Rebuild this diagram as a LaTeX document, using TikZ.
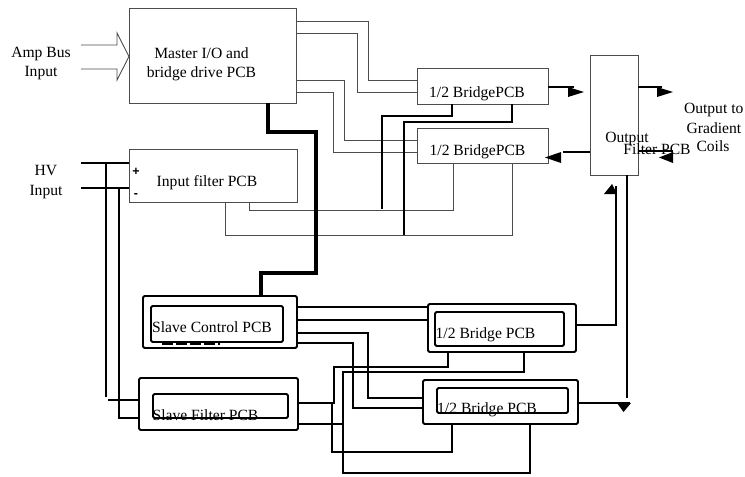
\documentclass[tikz,border=0pt]{standalone}
\usepackage{fontspec}
\setmainfont{Liberation Serif}
\newfontfamily\sansf{Liberation Sans}
\begin{document}
\begin{tikzpicture}[x=1pt,y=-1pt,
  thinbox/.style={draw=black!70,line width=0.9pt,inner sep=0,outer sep=0},
  slavebox/.style={draw=black,line width=1.9pt,rounded corners=1.5pt,inner sep=0,outer sep=0},
  gline/.style={draw=black!70,line width=0.9pt},
  bline/.style={draw=black,line width=2pt},
  thickbus/.style={draw=black,line width=4.5pt,line join=miter},
  txt/.style={font=\fontsize{15.6}{18.5}\selectfont,anchor=base,inner sep=0},
  sign/.style={font=\sansf\bfseries\fontsize{12.5}{13}\selectfont,inner sep=0}]

\useasboundingbox (0,0) rectangle (745,477);

% ---------- boxes ----------
\node[thinbox,minimum width=167pt,minimum height=95pt] (master) at (212.5,55.5) {};
\node[thinbox,minimum width=131pt,minimum height=36pt] (bA) at (482.5,86) {};
\node[thinbox,minimum width=131pt,minimum height=35pt] (bB) at (482.5,145.5) {};
\node[thinbox,minimum width=48pt,minimum height=120pt] (of) at (614,115) {};
\node[thinbox,minimum width=168pt,minimum height=53pt] (inf) at (213,175.5) {};

\node[slavebox,minimum width=154pt,minimum height=52pt] (sc) at (220,322) {};
\node[slavebox,minimum width=132pt,minimum height=36pt] (sci) at (217,324) {};
\node[slavebox,minimum width=148pt,minimum height=48pt] (sb1) at (502,328) {};
\node[slavebox,minimum width=129pt,minimum height=34pt] (sb1i) at (499.5,329) {};
\node[slavebox,minimum width=155pt,minimum height=44pt] (sb2) at (500.5,402) {};
\node[slavebox,minimum width=131pt,minimum height=25pt] (sb2i) at (502.5,400.5) {};
\node[slavebox,minimum width=159pt,minimum height=52pt] (sf) at (218.5,404) {};
\node[slavebox,minimum width=135pt,minimum height=24pt] (sfi) at (220.5,406) {};

% ---------- texts ----------
\node[txt] (amp1) at (41,57.7) {Amp Bus};
\node[txt] (amp2) at (41,76) {Input};
\node[txt] (m1) at (201.5,58.5) {Master I/O and};
\node[txt] (m2) at (201.5,77) {bridge drive PCB};
\node[txt] (hv1) at (46,175.3) {HV};
\node[txt] (hv2) at (46,195.3) {Input};
\node[sign] (plus) at (136,172) {+};
\node[sign] (minus) at (136,196) {-};
\node[txt] (inft) at (207,186) {Input filter PCB};
\node[txt] (bAt) at (477,97) {1/2 BridgePCB};
\node[txt] (bBt) at (477.5,155.5) {1/2 BridgePCB};
\node[txt] (oft1) at (627,142.7) {Output};
\node[txt] (oft2) at (657,154.3) {Filter PCB};
\node[txt] (g1) at (713.7,113.3) {Output to};
\node[txt] (g2) at (714,133.5) {Gradient};
\node[txt] (g3) at (713,151) {Coils};
\node[txt] (sct) at (212,332.3) {Slave Control PCB};
\node[txt] (sb1t) at (485.5,338.3) {1/2 Bridge PCB};
\node[txt] (sb2t) at (487,413.3) {1/2 Bridge PCB};
\node[txt] (sft) at (205.5,420) {Slave Filter PCB};

% ---------- Amp Bus input block arrow ----------
\draw[gline,line join=miter] (81,45) -- (117,45) -- (117,33) -- (master.west |- 0,56.5)
  -- (117,80) -- (117,69) -- (81,69);

% ---------- master to upper bridges (gray) ----------
\draw[gline] (master.east |- 0,21) -| (368,80) -- (bA.west |- 0,80);
\draw[gline] (master.east |- 0,33) -| (357,92) -- (bA.west |- 0,92);
\draw[gline] (master.east |- 0,80) -| (344,140) -- (bB.west |- 0,140);
\draw[gline] (master.east |- 0,92) -| (333,152) -- (bB.west |- 0,152);

% ---------- upper bridge B to input filter (gray) ----------
\draw[gline] (bB.south -| 453,0) -- (453,210) -| (inf.south -| 249,0);
\draw[gline] (bB.south -| 512,0) -- (512,235) -| (inf.south -| 225,0);

% ---------- upper bridge A bottom (black) ----------
\draw[bline] (bA.south -| 452,0) -- (452,116) -| (382,209);
\draw[bline] (bA.south -| 512,0) -- (512,122) -| (404,235);

% ---------- master to slave control bus ----------
\draw[thickbus] (master.south -| 268,0) -- (268,132) -| (316,273) -| (sc.north -| 261,0);

% ---------- HV input ----------
\draw[bline] (81,163) -- (inf.west |- 0,163);
\draw[bline] (81,188) -- (inf.west |- 0,188);
\draw[bline] (106,163) -- (106,397);
\draw[bline] (119,188) -- (119,417);
\draw[bline] (108,400) -- (sf.west |- 0,400);
\draw[bline] (118,418) -- (sf.west |- 0,418);

% ---------- upper arrows ----------
\draw[bline] (bA.east |- 0,87) -- (574,87);
\fill (568,87) -- (584,92) -- (568,97) -- cycle;
\draw[bline] (of.east |- 0,87) -- (662,87);
\fill (657,87) -- (673,92) -- (657,97) -- cycle;
\draw[bline] (of.west |- 0,152) -- (563,152);
\fill (561,152) -- (545,157.5) -- (561,163) -- cycle;
\draw[bline] (of.east |- 0,151) -- (673,151);
\fill (673,152) -- (659,157.5) -- (673,163) -- cycle;

% ---------- slave control to slave bridges ----------
\draw[bline] (sc.east |- 0,307) -- (sb1.west |- 0,307);
\draw[bline] (sc.east |- 0,320) -- (sb1.west |- 0,320);
\draw[bline] (sc.east |- 0,333) -| (368,398) -- (sb2.west |- 0,398);
\draw[bline] (sc.east |- 0,343) -| (353,408) -- (sb2.west |- 0,408);
\draw[line width=2.5pt,dash pattern=on 11pt off 3pt] (162,343.5) -- (220,343.5);

% ---------- slave bridges to output filter ----------
\draw[bline] (sb1.east |- 0,325) -| (616,186);
\fill (604,194) -- (617,194) -- (612,184) -- cycle;
\draw[bline] (sb2.east |- 0,403) -- (630,403);
\draw[bline] (of.south -| 627,0) -- (627,398);
\fill (617,403) -- (631,403) -- (623.5,412) -- cycle;

% ---------- slave filter to slave bridges ----------
\draw[bline] (sf.east |- 0,403) -| (334,367) -| (sb1.south -| 448,0);
\draw[bline] (332,403) |- (452,452) -- (sb2.south -| 452,0);
\draw[bline] (sf.east |- 0,424) -- (343,424);
\draw[bline] (sb1.south -| 524,0) |- (343,372) -- (343,473) -| (sb2.south -| 530,0);

\end{tikzpicture}
\end{document}
